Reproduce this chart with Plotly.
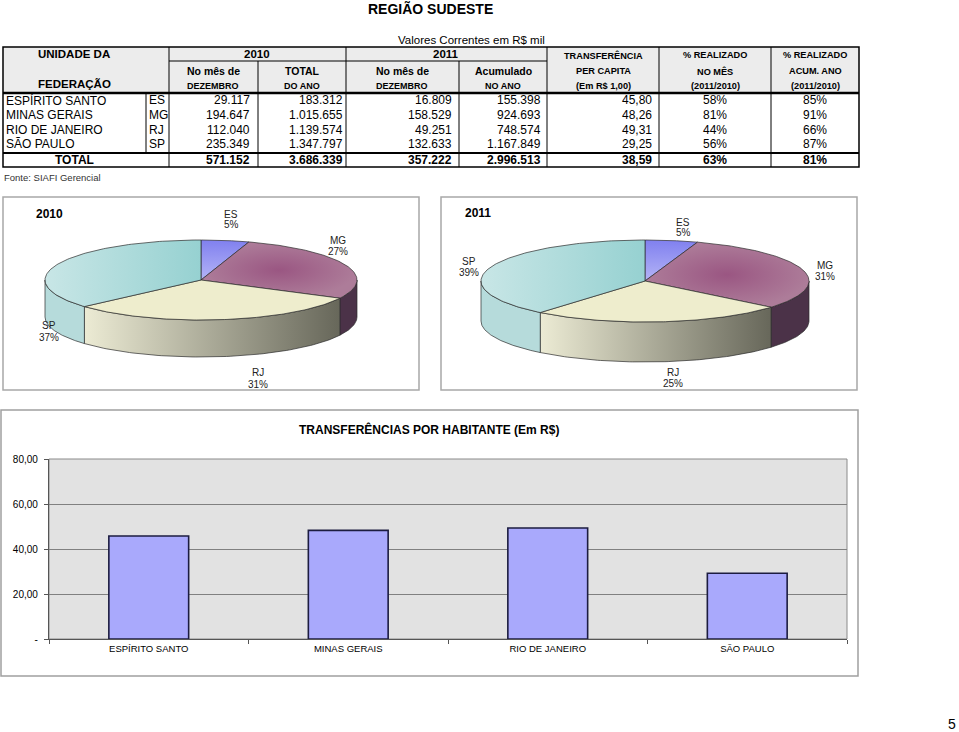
import numpy as np
import plotly.graph_objects as go

# ---------------- data ----------------
uf_names = ["ESPÍRITO SANTO", "MINAS GERAIS", "RIO DE JANEIRO", "SÃO PAULO"]
uf_codes = ["ES", "MG", "RJ", "SP"]
mes_2010 = [29117, 194647, 112040, 235349]
total_2010 = [183312, 1015655, 1139574, 1347797]
mes_2011 = [16809, 158529, 49251, 132633]
acum_2011 = [155398, 924693, 748574, 1167849]
per_capita = [45.80, 48.26, 49.31, 29.25]
real_mes = [58, 81, 44, 56]
real_acum = [85, 91, 66, 87]
totals_int = [571152, 3686339, 357222, 2996513]
total_per_capita = 38.59
total_real = [63, 81]
pie_2010_pct = [5, 27, 31, 37]
pie_2011_pct = [5, 31, 25, 39]
bar_ticks = [0, 20, 40, 60, 80]
bar_tick_text = ["-", "20,00", "40,00", "60,00", "80,00"]

# ---------------- helpers ----------------
W, H = 959, 732
FONT = "Arial, 'Liberation Sans', sans-serif"


def X(px):
    return px / W


def Y(py):
    return 1 - py / H


shapes = []
annotations = []


def line(x0, y0, x1, y1, w=1.0, color="#000"):
    shapes.append(dict(type="line", xref="paper", yref="paper", x0=X(x0), y0=Y(y0),
                       x1=X(x1), y1=Y(y1), line=dict(color=color, width=w)))


def rect(x0, y0, x1, y1, fill="rgba(0,0,0,0)", lc="#000", w=1.0):
    shapes.append(dict(type="rect", xref="paper", yref="paper", x0=X(x0), y0=Y(y0),
                       x1=X(x1), y1=Y(y1), fillcolor=fill,
                       line=dict(color=lc, width=w)))


def txt(x, y, s, size=12, bold=False, anchor="center", color="#000"):
    annotations.append(dict(xref="paper", yref="paper", x=X(x), y=Y(y), text=s,
                            showarrow=False, xanchor=anchor, yanchor="middle",
                            borderpad=0,
                            font=dict(family=FONT, size=size, color=color,
                                      weight="bold" if bold else "normal")))


def fmt_int(v):
    return f"{v:,}".replace(",", ".")


def fmt_dec(v):
    return f"{v:.2f}".replace(".", ",")


# ---------------- titles ----------------
txt(430, 8, "REGIÃO SUDESTE", 14, True)
txt(471, 40, "Valores Correntes em R$ mil", 11.5)

# ---------------- table ----------------
rect(3, 47, 859, 93, fill="#ececec", lc="rgba(0,0,0,0)", w=0)
rect(3, 47, 859, 167, w=1.5)
line(3, 93, 859, 93, 2.5)
line(3, 153, 859, 153, 2.2)
line(169, 61, 547, 61, 1)
for xv in [169, 346, 547, 659, 771]:
    line(xv, 47, xv, 167, 1)
for xv in [258, 459]:
    line(xv, 61, xv, 167, 1)
line(146, 93, 146, 153, 1)

txt(74, 54, "UNIDADE DA", 11.5, True)
txt(74, 84, "FEDERAÇÃO", 11.5, True)
txt(257, 54, "2010", 11.5, True)
txt(446, 54, "2011", 11.5, True)
for cx, a, b in [(213, "No mês de", "DEZEMBRO"), (302, "TOTAL", "DO ANO"),
                 (402, "No mês de", "DEZEMBRO"), (503, "Acumulado", "NO ANO")]:
    txt(cx, 71, a, 10.5, True)
    txt(cx, 86, b, 9, True)
for cx, a, b, c in [(603, "TRANSFERÊNCIA", "PER CAPITA", "(Em R$ 1,00)"),
                    (715, "% REALIZADO", "NO MÊS", "(2011/2010)"),
                    (815, "% REALIZADO", "ACUM. ANO", "(2011/2010)")]:
    txt(cx, 55, a, 9.2, True)
    txt(cx, 71, b, 9.2, True)
    txt(cx, 86, c, 9.2, True)

row_y = [100, 115, 130, 144]
for i, ry in enumerate(row_y):
    txt(5, ry, uf_names[i], 12, anchor="left")
    txt(148, ry, uf_codes[i], 12, anchor="left")
    txt(251, ry, fmt_int(mes_2010[i]), 12, anchor="right")
    txt(344, ry, fmt_int(total_2010[i]), 12, anchor="right")
    txt(453, ry, fmt_int(mes_2011[i]), 12, anchor="right")
    txt(542, ry, fmt_int(acum_2011[i]), 12, anchor="right")
    txt(653, ry, fmt_dec(per_capita[i]), 12, anchor="right")
    txt(715, ry, f"{real_mes[i]}%", 12)
    txt(815, ry, f"{real_acum[i]}%", 12)

ty = 160
txt(74, ty, "TOTAL", 12, True)
for xr, v in zip([251, 344, 453, 542], totals_int):
    txt(xr, ty, fmt_int(v), 12, True, anchor="right")
txt(653, ty, fmt_dec(total_per_capita), 12, True, anchor="right")
txt(715, ty, f"{total_real[0]}%", 12, True)
txt(815, ty, f"{total_real[1]}%", 12, True)
txt(3, 177, "Fonte: SIAFI Gerencial", 9.5, anchor="left", color="#333")

# ---------------- pie boxes ----------------
rect(3, 197, 419, 390, lc="#a8a8a8", w=1.5)
rect(441, 197, 857, 390, lc="#a8a8a8", w=1.5)
txt(49, 214, "2010", 12, True)
txt(478, 213, "2011", 12, True)

pie_lbl_2010 = [(231, 214), (338, 241), (258, 373), (49, 326)]
pie_lbl_2011 = [(683, 222), (825, 265), (673, 372), (469, 261)]
for pos, pct in [(pie_lbl_2010, pie_2010_pct), (pie_lbl_2011, pie_2011_pct)]:
    for (lx, ly), code, p in zip(pos, uf_codes, pct):
        txt(lx, ly, code, 10, color="#222")
        txt(lx, ly + 11, f"{p}%", 10, color="#222")

# ---------------- 3D pies (scatter polygons on a pixel axis) ----------------
top_styles = [
    dict(fillgradient=dict(type="vertical", colorscale=[[0, "#b4b4f6"], [1, "#8080ef"]])),
    dict(fillgradient=dict(type="radial", colorscale=[[0, "#9a5682"], [1, "#ad7c99"]])),
    dict(fillcolor="#eeedcd"),
    dict(fillgradient=dict(type="horizontal", colorscale=[[0, "#c8e6e6"], [1, "#96d1d1"]])),
]
side_styles = [
    dict(fillcolor="#6f6fd8"),
    dict(fillcolor="#4b3248"),
    dict(fillgradient=dict(type="horizontal", colorscale=[[0, "#ecebd4"], [1, "#67675a"]])),
    dict(fillcolor="#b6dbdb"),
]
EDGE = dict(color="#2b2b2b", width=0.7)


def pie3d(values, cx, cy, rx, ry, depth):
    out = []
    frac = np.cumsum([0] + list(values)) / float(sum(values)) * 2 * np.pi
    for i in range(len(values)):
        a0, a1 = frac[i], frac[i + 1]
        s0, s1 = max(a0, np.pi / 2), min(a1, 3 * np.pi / 2)
        if s1 > s0:
            th = np.linspace(s0, s1, 80)
            xs = cx + rx * np.sin(th)
            ys = cy - ry * np.cos(th)
            px = np.concatenate([xs, xs[::-1], xs[:1]])
            py = np.concatenate([ys, ys[::-1] + depth, ys[:1]])
            out.append(go.Scatter(x=px, y=py, mode="lines", fill="toself", line=EDGE,
                                  xaxis="x2", yaxis="y2", hoverinfo="skip",
                                  showlegend=False, **side_styles[i]))
    for i in range(len(values)):
        th = np.linspace(frac[i], frac[i + 1], 120)
        px = np.concatenate([[cx], cx + rx * np.sin(th), [cx]])
        py = np.concatenate([[cy], cy - ry * np.cos(th), [cy]])
        out.append(go.Scatter(x=px, y=py, mode="lines", fill="toself", line=EDGE,
                              xaxis="x2", yaxis="y2", hoverinfo="skip",
                              showlegend=False, **top_styles[i]))
    return out


traces = []
traces += pie3d(total_2010, 201, 280, 156, 40, 37)
traces += pie3d(acum_2011, 645, 281, 164, 41, 40)

# ---------------- bar chart ----------------
rect(1, 410, 858, 676, lc="#a0a0a0", w=1.5)
txt(429, 429, "TRANSFERÊNCIAS POR HABITANTE (Em R$)", 12, True)
txt(952, 724, "5", 14)

traces.append(go.Bar(x=uf_names, y=per_capita, width=0.4,
                     marker=dict(color="#a9a9fc", line=dict(color="#1c1c40", width=1.6)),
                     hoverinfo="skip", showlegend=False))

shapes.insert(0, dict(type="rect", xref="x domain", yref="y domain", x0=0, x1=1, y0=0, y1=1,
                      fillcolor="#e2e2e2", line=dict(color="#8a8a8a", width=1), layer="below"))

fig = go.Figure(traces)
fig.update_layout(
    template="none",
    width=W, height=H, autosize=False,
    margin=dict(l=0, r=0, t=0, b=0, pad=0, autoexpand=False),
    paper_bgcolor="white", plot_bgcolor="rgba(0,0,0,0)",
    shapes=shapes, annotations=annotations, showlegend=False,
    xaxis=dict(domain=[X(49), X(847)], type="category", range=[-0.5, 3.5],
               automargin=False,
               showgrid=False, showline=True, linecolor="#555", linewidth=1.2,
               ticks="outside", tickson="boundaries", ticklen=4, tickcolor="#555",
               tickfont=dict(family=FONT, size=9.5, color="#000"), fixedrange=True),
    yaxis=dict(domain=[Y(639), Y(459)], range=[0, 80], tickvals=bar_ticks,
               automargin=False,
               ticktext=bar_tick_text, showgrid=True, gridcolor="#808080", gridwidth=1.2,
               showline=True, linecolor="#555", linewidth=1.2, zeroline=False,
               ticks="outside", ticklen=4, tickcolor="#555", ticklabelstandoff=4,
               tickfont=dict(family=FONT, size=10, color="#000"), fixedrange=True),
    xaxis2=dict(domain=[0, 1], range=[0, W], visible=False, fixedrange=True,
                automargin=False, showgrid=False, zeroline=False),
    yaxis2=dict(domain=[Y(400), Y(190)], range=[400, 190], visible=False, fixedrange=True,
                automargin=False, showgrid=False, zeroline=False),
)

fig.write_html(
    "out.html",
    config={"displayModeBar": False},
    post_script="document.body.style.margin='0';document.body.style.padding='0';"
                "document.documentElement.style.overflow='hidden';",
)
